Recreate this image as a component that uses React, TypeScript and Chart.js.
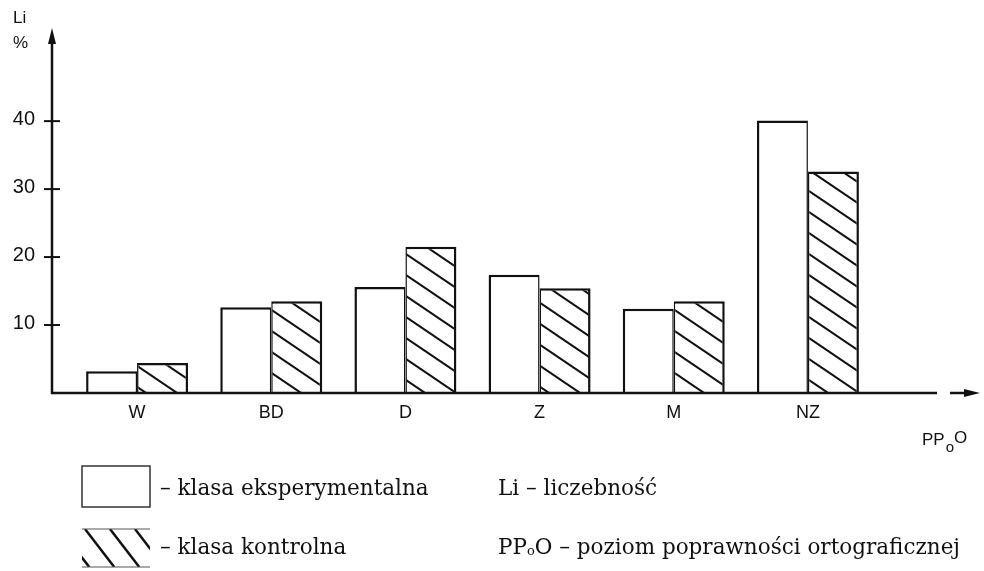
import React, { useEffect, useRef } from "react";
import { Chart, registerables } from "chart.js";

Chart.register(...registerables);

const categories = ["W", "BD", "D", "Z", "M", "NZ"];
const experimental = [3.2, 12.6, 15.6, 17.4, 12.4, 40.1];
const control = [4.4, 13.5, 21.5, 15.4, 13.5, 32.6];
const yTicks = [10, 20, 30, 40];
const yAxisTitle = ["Li", "%"];
const xAxisTitle = ["PP", "o", "O"];
const legendLabels = ["– klasa eksperymentalna", "– klasa kontrolna"];
const noteLi = "Li – liczebność";
const notePP = ["PP", "o", "O – poziom poprawności ortograficznej"];

const INK = "#111111";

function makeHatch(w: number, h: number, lw: number): CanvasPattern | string {
  const c = document.createElement("canvas");
  c.width = w;
  c.height = h;
  const g = c.getContext("2d");
  if (!g) return "#fff";
  g.fillStyle = "#ffffff";
  g.fillRect(0, 0, w, h);
  g.strokeStyle = INK;
  g.lineWidth = lw;
  for (let k = -2; k <= 2; k++) {
    g.beginPath();
    g.moveTo(-w, -h + k * h);
    g.lineTo(2 * w, 2 * h + k * h);
    g.stroke();
  }
  const p = g.createPattern(c, "repeat");
  return p || "#fff";
}

const decorPlugin = {
  id: "decor",
  afterDraw(chart: any) {
    const ctx = chart.ctx as CanvasRenderingContext2D;
    const xs = chart.scales.x;
    const ys = chart.scales.y;
    const area = chart.chartArea;
    const y0 = ys.getPixelForValue(0);
    const axisX = 52;
    ctx.save();
    ctx.strokeStyle = INK;
    ctx.fillStyle = INK;
    ctx.lineWidth = 2.5;
    ctx.lineCap = "butt";

    // y axis
    ctx.beginPath();
    ctx.moveTo(axisX, y0 + 1);
    ctx.lineTo(axisX, area.top + 10);
    ctx.stroke();
    ctx.beginPath();
    ctx.moveTo(axisX, area.top);
    ctx.lineTo(axisX - 4, area.top + 16);
    ctx.lineTo(axisX + 4, area.top + 16);
    ctx.closePath();
    ctx.fill();

    // y ticks
    ctx.lineWidth = 2;
    ctx.font = "20px 'Liberation Sans', Arial, sans-serif";
    ctx.textAlign = "right";
    ctx.textBaseline = "middle";
    yTicks.forEach((v) => {
      const y = ys.getPixelForValue(v);
      ctx.beginPath();
      ctx.moveTo(axisX - 8, y);
      ctx.lineTo(axisX + 8, y);
      ctx.stroke();
      ctx.fillText(String(v), 35, y - 2);
    });

    // y title
    ctx.font = "17px 'Liberation Sans', Arial, sans-serif";
    ctx.textAlign = "left";
    ctx.fillText(yAxisTitle[0], 13, 18);
    ctx.fillText(yAxisTitle[1], 13, 43);

    // x axis
    ctx.lineWidth = 2.5;
    ctx.beginPath();
    ctx.moveTo(axisX - 1, y0);
    ctx.lineTo(937, y0);
    ctx.stroke();
    ctx.beginPath();
    ctx.moveTo(950, y0);
    ctx.lineTo(968, y0);
    ctx.stroke();
    ctx.beginPath();
    ctx.moveTo(980, y0);
    ctx.lineTo(964, y0 - 4);
    ctx.lineTo(964, y0 + 4);
    ctx.closePath();
    ctx.fill();

    // x labels
    ctx.font = "18px 'Liberation Sans', Arial, sans-serif";
    ctx.textAlign = "center";
    ctx.textBaseline = "middle";
    categories.forEach((c, i) => {
      ctx.fillText(c, xs.getPixelForValue(i), y0 + 20);
    });

    // x title PPoO
    ctx.textAlign = "left";
    ctx.font = "17px 'Liberation Sans', Arial, sans-serif";
    let tx = 922;
    const ty = y0 + 47;
    ctx.fillText(xAxisTitle[0], tx, ty);
    tx += ctx.measureText(xAxisTitle[0]).width + 1;
    ctx.font = "15px 'Liberation Sans', Arial, sans-serif";
    ctx.fillText(xAxisTitle[1], tx, ty + 8);
    tx += ctx.measureText(xAxisTitle[1]).width;
    ctx.font = "17px 'Liberation Sans', Arial, sans-serif";
    ctx.fillText(xAxisTitle[2], tx, ty - 2);

    // legend boxes
    ctx.strokeStyle = "#333";
    ctx.lineWidth = 1.5;
    ctx.strokeRect(82, 466, 68, 41);

    ctx.save();
    ctx.beginPath();
    ctx.rect(82, 529, 68, 38);
    ctx.clip();
    ctx.lineWidth = 2.5;
    ctx.strokeStyle = INK;
    for (let k = -3; k < 5; k++) {
      const sx = 85 + k * 25;
      ctx.beginPath();
      ctx.moveTo(sx, 529);
      ctx.lineTo(sx + 38 / 1.3, 567);
      ctx.stroke();
    }
    ctx.restore();
    ctx.strokeStyle = "#555";
    ctx.lineWidth = 1.2;
    ctx.beginPath();
    ctx.moveTo(82, 529);
    ctx.lineTo(150, 529);
    ctx.moveTo(82, 567);
    ctx.lineTo(150, 567);
    ctx.stroke();

    // legend texts
    const serif = "'DejaVu Serif', serif";
    ctx.fillStyle = INK;
    ctx.font = `21.5px ${serif}`;
    ctx.textBaseline = "middle";
    ctx.fillText(legendLabels[0], 160, 489);
    ctx.fillText(legendLabels[1], 160, 548);
    ctx.fillText(noteLi, 498, 489);

    let nx = 498;
    ctx.fillText(notePP[0], nx, 548);
    nx += ctx.measureText(notePP[0]).width;
    ctx.font = `13px ${serif}`;
    ctx.fillText(notePP[1], nx, 552);
    nx += ctx.measureText(notePP[1]).width;
    ctx.font = `21.5px ${serif}`;
    ctx.fillText(notePP[2], nx, 548);

    ctx.restore();
  },
};

export default function App() {
  const ref = useRef<HTMLCanvasElement | null>(null);
  useEffect(() => {
    if (!ref.current) return;
    const hatch = makeHatch(31, 21, 2);
    const chart = new Chart(ref.current, {
      type: "bar",
      data: {
        labels: categories,
        datasets: [
          {
            label: legendLabels[0],
            data: experimental,
            backgroundColor: "#ffffff",
            borderColor: INK,
            borderWidth: { left: 2.5, top: 2.5, right: 1.5, bottom: 0 },
            borderSkipped: "start",
          },
          {
            label: legendLabels[1],
            data: control,
            backgroundColor: hatch as any,
            borderColor: INK,
            borderWidth: { left: 1.5, top: 2.5, right: 2.5, bottom: 0 },
            borderSkipped: "start",
          },
        ],
      },
      options: {
        responsive: false,
        animation: false,
        events: [],
        layout: { padding: { left: 70, right: 109, top: 28, bottom: 178 } },
        datasets: { bar: { categoryPercentage: 0.76, barPercentage: 1 } },
        plugins: { legend: { display: false }, tooltip: { enabled: false }, title: { display: false } },
        scales: {
          x: { display: false, type: "category" },
          y: { display: false, min: 0, max: 53.7 },
        },
      },
      plugins: [decorPlugin],
    });
    return () => chart.destroy();
  }, []);
  return (
    <div style={{ position: "absolute", left: 0, top: 0, width: 984, height: 571, background: "#fff" }}>
      <canvas ref={ref} width={984} height={571} style={{ display: "block" }} />
    </div>
  );
}
